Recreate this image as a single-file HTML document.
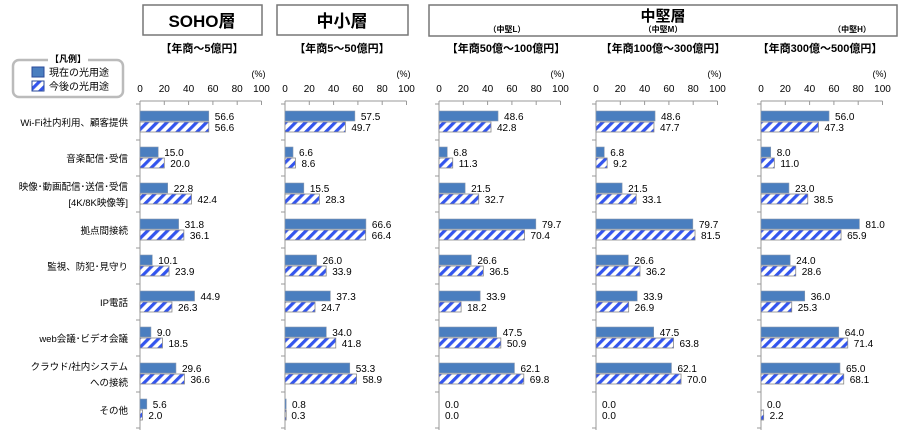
<!DOCTYPE html>
<html><head><meta charset="utf-8"><style>
body{margin:0;background:#fff;font-family:"Liberation Sans","Noto Sans CJK JP",sans-serif;}
svg text{font-family:"Liberation Sans","Noto Sans CJK JP",sans-serif;}
</style></head><body>
<svg id="c" width="914" height="439" viewBox="0 0 914 439" xmlns="http://www.w3.org/2000/svg">
<defs>
<pattern id="hatch" patternUnits="userSpaceOnUse" width="7" height="7" patternTransform="rotate(45)">
<rect width="7" height="7" fill="#fff"/><rect width="3.2" height="7" fill="#3355ee"/>
</pattern>
</defs>
<g>
<rect x="143" y="5" width="119" height="30" fill="#fff" stroke="#777" stroke-width="1.5"/>
<text x="202" y="27" font-size="17" font-weight="bold" text-anchor="middle">SOHO層</text>
<text x="202" y="52" font-size="11" font-weight="bold" text-anchor="middle">【年商～5億円】</text>
</g>
<g>
<rect x="277" y="5" width="131" height="30" fill="#fff" stroke="#777" stroke-width="1.5"/>
<text x="342" y="27" font-size="17" font-weight="bold" text-anchor="middle">中小層</text>
<text x="342" y="52" font-size="11" font-weight="bold" text-anchor="middle">【年商5～50億円】</text>
</g>
<g>
<rect x="429" y="5" width="468" height="31" fill="#fff" stroke="#777" stroke-width="1.5"/>
<text x="663" y="21" font-size="15" font-weight="bold" text-anchor="middle">中堅層</text>
<text x="507" y="32" font-size="8" font-weight="bold" text-anchor="middle">（中堅L）</text>
<text x="663" y="32" font-size="8" font-weight="bold" text-anchor="middle">（中堅M）</text>
<text x="852" y="32" font-size="8" font-weight="bold" text-anchor="middle">（中堅H）</text>
<text x="506" y="52" font-size="11" font-weight="bold" text-anchor="middle">【年商50億～100億円】</text>
<text x="663" y="52" font-size="11" font-weight="bold" text-anchor="middle">【年商100億～300億円】</text>
<text x="820" y="52" font-size="11" font-weight="bold" text-anchor="middle">【年商300億～500億円】</text>
</g>
<g>
<rect x="13" y="60" width="110" height="37" rx="6" fill="#fff" stroke="#bbb" stroke-width="2.5"/>
<rect x="48" y="53" width="40" height="12" fill="#fff"/>
<text x="68" y="62" font-size="9" font-weight="bold" text-anchor="middle">【凡例】</text>
<rect x="32" y="67" width="12" height="10" fill="#4a7ebf" stroke="#2a4a9a"/>
<text x="49" y="76" font-size="10">現在の光用途</text>
<rect x="32" y="81" width="12" height="10" fill="url(#hatch)" stroke="#2a4a9a"/>
<text x="49" y="90" font-size="10">今後の光用途</text>
</g>
<g id="labels"></g>
<g id="panels"></g>
</svg>
<script>
const categories=["Wi-Fi社内利用、顧客提供","音楽配信･受信","映像･動画配信･送信･受信|[4K/8K映像等]","拠点間接続","監視、防犯･見守り","IP電話","web会議･ビデオ会議","クラウド/社内システム|への接続","その他"];
const panelNames=["soho","small-medium","mid-l","mid-m","mid-h"];
const currentSoho=[56.6,15.0,22.8,31.8,10.1,44.9,9.0,29.6,5.6];
const futureSoho=[56.6,20.0,42.4,36.1,23.9,26.3,18.5,36.6,2.0];
const currentSmall=[57.5,6.6,15.5,66.6,26.0,37.3,34.0,53.3,0.8];
const futureSmall=[49.7,8.6,28.3,66.4,33.9,24.7,41.8,58.9,0.3];
const currentMidL=[48.6,6.8,21.5,79.7,26.6,33.9,47.5,62.1,0.0];
const futureMidL=[42.8,11.3,32.7,70.4,36.5,18.2,50.9,69.8,0.0];
const currentMidM=[48.6,6.8,21.5,79.7,26.6,33.9,47.5,62.1,0.0];
const futureMidM=[47.7,9.2,33.1,81.5,36.2,26.9,63.8,70.0,0.0];
const currentMidH=[56.0,8.0,23.0,81.0,24.0,36.0,64.0,65.0,0.0];
const futureMidH=[47.3,11.0,38.5,65.9,28.6,25.3,71.4,68.1,2.2];
const tickLabels=[0,20,40,60,80,100];
const currents=[currentSoho,currentSmall,currentMidL,currentMidM,currentMidH];
const futures=[futureSoho,futureSmall,futureMidL,futureMidM,futureMidH];
const origins=[140,285,439,596,761];
const W=121.5;
const NS="http://www.w3.org/2000/svg";
function rowY(i){return 122+36*i;}
function mk(tag,attrs,parent){const e=document.createElementNS(NS,tag);for(const k in attrs)e.setAttribute(k,attrs[k]);parent.appendChild(e);return e;}
const lab=document.getElementById('labels');
categories.forEach((c,i)=>{
  const parts=c.split('|');
  const t=mk('text',{x:128,'font-size':9.5,'text-anchor':'end'},lab);
  
  
  parts.forEach((p,j)=>{
    const ts=mk('tspan',{x:128,y:rowY(i)+4+(parts.length>1?(j*16-8):0)},t);
    ts.textContent=p;
  });
});
const pg=document.getElementById('panels');
origins.forEach((x0,p)=>{
  const g=mk('g',{},pg);
  
  
  const sx=v=>x0+v/100*W;
  mk('line',{x1:x0,y1:101,x2:x0+W,y2:101,stroke:'#999'},g);
  tickLabels.forEach(v=>{
    mk('line',{x1:sx(v),y1:101,x2:sx(v),y2:105,stroke:'#999'},g);
    const t=mk('text',{x:sx(v),y:92,'font-size':10,'text-anchor':'middle'},g);
    
    
    t.textContent=v;
  });
  const u=mk('text',{x:sx(100)+4,y:77,'font-size':9,'text-anchor':'end'},g);
  
  
  u.textContent='(%)';
  mk('line',{x1:x0,y1:104,x2:x0,y2:430,stroke:'#999'},g);
  for(let i=0;i<=categories.length;i++){
    mk('line',{x1:x0-4,y1:rowY(i)-18,x2:x0,y2:rowY(i)-18,stroke:'#999'},g);
  }
  currents[p].forEach((v,i)=>{
    const y=rowY(i);
    if(v>0){
      const b=mk('rect',{x:x0,y:y-11,width:Math.max(v/100*W,1.2),height:10,fill:'#4a7ebf',stroke:'#8a9ab0','stroke-width':0.6},g);
      
      
    }
    const t=mk('text',{x:sx(v)+6,y:y-2,'font-size':10},g);
    
    
    t.textContent=v.toFixed(1);
    const f=futures[p][i];
    if(f>0){
      const b2=mk('rect',{x:x0,y:y,width:Math.max(f/100*W,1.2),height:10,fill:'url(#hatch)',stroke:'#888','stroke-width':0.8},g);
      
      
    }
    const t2=mk('text',{x:sx(f)+6,y:y+9,'font-size':10},g);
    
    
    t2.textContent=f.toFixed(1);
  });
});
</script>
</body></html>
